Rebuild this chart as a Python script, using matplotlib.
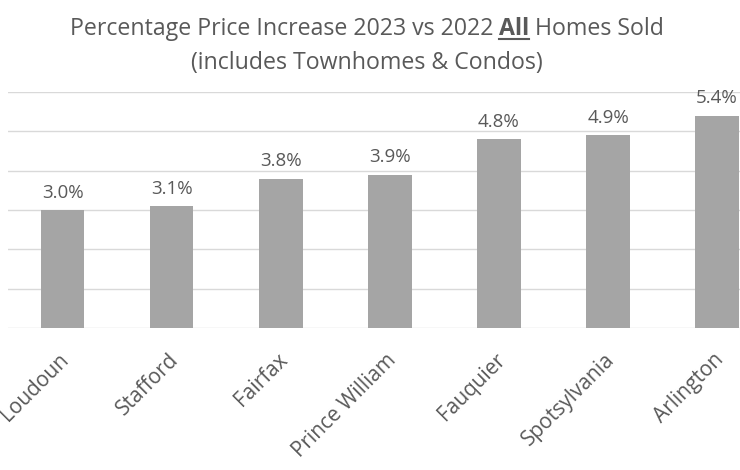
import matplotlib.pyplot as plt
from matplotlib.lines import Line2D
from matplotlib.transforms import ScaledTranslation

plt.rcParams['font.family'] = ['Open Sans', 'DejaVu Sans']

counties = ['Loudoun', 'Stafford', 'Fairfax', 'Prince William', 'Fauquier', 'Spotsylvania', 'Arlington']
increase = [3.0, 3.1, 3.8, 3.9, 4.8, 4.9, 5.4]

TXT = '#595959'
BAR = '#A5A5A5'
GRID = '#D9D9D9'

fig = plt.figure(figsize=(7.4, 4.7), dpi=100)
ax = fig.add_axes([8 / 740, 1 - 328 / 470, 1 - 8 / 740, (328 - 92) / 470])

x = range(len(counties))
bars = ax.bar(x, increase, width=0.4, color=BAR, zorder=2)
for b, v in zip(bars, increase):
    ax.annotate(f'{v:.1f}%', (b.get_x() + b.get_width() / 2, v), xytext=(0, 6),
                textcoords='offset points', ha='center', va='bottom',
                fontsize=13.5, color=TXT)

ax.set_xlim(-0.5, 6.21)
ax.set_ylim(0, 6)
ax.set_yticks(range(7))
ax.yaxis.grid(True, color=GRID, linewidth=1)
ax.set_axisbelow(True)
ax.tick_params(left=False, labelleft=False, bottom=False)
for s in ax.spines.values():
    s.set_visible(False)
ax.set_xticks(list(x))
ax.set_xticklabels(counties, rotation=45, ha='right', va='top',
                   rotation_mode='anchor', fontsize=15, color=TXT)
ax.tick_params(axis='x', pad=12)
shift = ScaledTranslation(-4 / 100, 0, fig.dpi_scale_trans)
for lab in ax.get_xticklabels():
    lab.set_transform(lab.get_transform() + shift)

# title, with "All" in bold and underlined
fig.canvas.draw()
r = fig.canvas.get_renderer()
fs = 16.7
parts = [('Percentage Price Increase 2023 vs 2022 ', 'normal'), ('All', 'bold'), (' Homes Sold', 'normal')]
texts = []
widths = []
for s, w in parts:
    t = fig.text(0, 1 - 29 / 470, s, fontsize=fs, fontweight=w, color=TXT, va='center', ha='left')
    widths.append(t.get_window_extent(r).width)
    texts.append(t)
total = sum(widths)
start = 367 - total / 2
pos = start
for t, wd in zip(texts, widths):
    t.set_x(pos / 740)
    pos += wd
ax_all = texts[1].get_window_extent(r)
x0 = (start + widths[0]) / 740
x1 = (start + widths[0] + widths[1]) / 740
uy = (ax_all.y0 + 2) / 470
fig.add_artist(Line2D([x0, x1], [uy, uy], color=TXT, linewidth=1.5))
fig.text(367 / 740, 1 - 63 / 470, '(includes Townhomes & Condos)', fontsize=fs,
         color=TXT, ha='center', va='center')

fig.savefig('out.png', dpi=100)
